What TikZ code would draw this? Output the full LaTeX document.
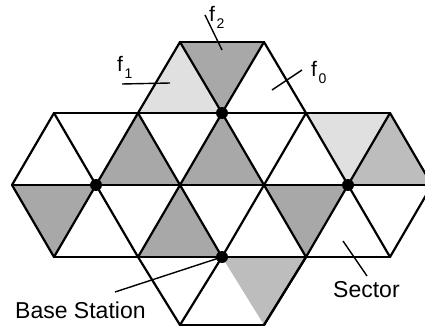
\documentclass[tikz,border=0pt]{standalone}
\usepackage{fontspec}
\setmainfont{Liberation Sans}
\newcommand{\flabel}[1]{f\kern1.5pt\raisebox{-7pt}{\fontsize{14}{14}\selectfont #1}}
\begin{document}
\begin{tikzpicture}[x=1pt,y=-1pt,
  grid/.style={line width=2.2pt,line join=round,line cap=round},
  dense/.style={fill=black!34},
  medium/.style={fill=black!26},
  light/.style={fill=black!12},
  bs/.style={circle,fill=black,inner sep=0pt,minimum size=12pt},
  leader/.style={line width=1.4pt},
  lbl/.style={inner sep=0pt,anchor=base west,font=\fontsize{21}{21}\selectfont},
  txt/.style={inner sep=0pt,anchor=base west,font=\fontsize{23}{23}\selectfont}]
\useasboundingbox (0,0) rectangle (425,331);
\clip (0,0) rectangle (425,331);
\foreach \r/\y in {0/42,1/113,2/185,3/257,4/325}{
  \foreach \k in {0,...,10}{\coordinate (p\r-\k) at ({12+42*\k},\y);}}
% shaded triangles
\fill[light]  (p1-3) -- (p0-4) -- (p1-5) -- cycle;
\fill[dense]  (p0-4) -- (p0-6) -- (p1-5) -- cycle;
\fill[dense]  (p2-2) -- (p1-3) -- (p2-4) -- cycle;
\fill[dense]  (p2-4) -- (p1-5) -- (p2-6) -- cycle;
\fill[light]  (p1-7) -- (p1-9) -- (p2-8) -- cycle;
\fill[medium] (p2-8) -- (p1-9) -- (p2-10) -- cycle;
\fill[dense]  (p2-0) -- (p2-2) -- (p3-1) -- cycle;
\fill[dense]  (p3-3) -- (p2-4) -- (p3-5) -- cycle;
\fill[dense]  (p2-6) -- (p2-8) -- (p3-7) -- cycle;
\fill[medium] (p3-5) -- (p3-7) -- (p4-6) -- cycle;
% grid lines
\draw[grid] (p0-4) -- (p0-6);
\draw[grid] (p1-1) -- (p1-9);
\draw[grid] (p2-0) -- (p2-10);
\draw[grid] (p3-1) -- (p3-9);
\draw[grid] (p4-4) -- (p4-6);
% rising diagonals (bottom-left to top-right)
\draw[grid] (p2-0) -- (p1-1);
\draw[grid] (p3-1) -- (p1-3) -- (p0-4);
\draw[grid] (p4-4) -- (p3-5) -- (p1-7);
\draw[grid] (p3-3) -- (p1-5) -- (p0-6);
\draw[grid] (p4-6) -- (p3-7) -- (p1-9);
\draw[grid] (p3-9) -- (p2-10);
% falling diagonals (top-left to bottom-right)
\draw[grid] (p1-1) -- (p3-3) -- (p4-4);
\draw[grid] (p2-0) -- (p3-1);
\draw[grid] (p0-4) -- (p1-5) -- (p3-7) -- (p4-6);
\draw[grid] (p1-3) -- (p2-4) -- (p3-5);
\draw[grid] (p0-6) -- (p1-7) -- (p3-9);
\draw[grid] (p1-9) -- (p2-10);
% base stations
\node[bs] (bsT) at (p1-5) {};
\node[bs] (bsL) at (p2-2) {};
\node[bs] (bsR) at (p2-8) {};
\node[bs] (bsB) at (p3-5) {};
% labels
\node[lbl] (f1) at (117,72) {\flabel{1}};
\node[lbl] (f2) at (209,22) {\flabel{2}};
\node[lbl] (f0) at (311,77) {\flabel{0}};
\node[txt] (base) at (15,318) {Base Station};
\node[txt] (sector) at (333,297) {Sector};
% leader lines
\coordinate (f1a) at (122,84);
\coordinate (f1b) at (170,83);
\coordinate (f2a) at (205,15);
\coordinate (f2b) at (222,50);
\coordinate (f0a) at (302,70);
\coordinate (f0b) at (272,90);
\coordinate (bsa) at (115,292);
\coordinate (sa) at (367,276);
\coordinate (sb) at (343,241);
\draw[leader] (f1a) -- (f1b);
\draw[leader] (f2a) -- (f2b);
\draw[leader] (f0a) -- (f0b);
\draw[leader] (bsa) -- (bsB.center);
\draw[leader] (sa) -- (sb);
\end{tikzpicture}
\end{document}
